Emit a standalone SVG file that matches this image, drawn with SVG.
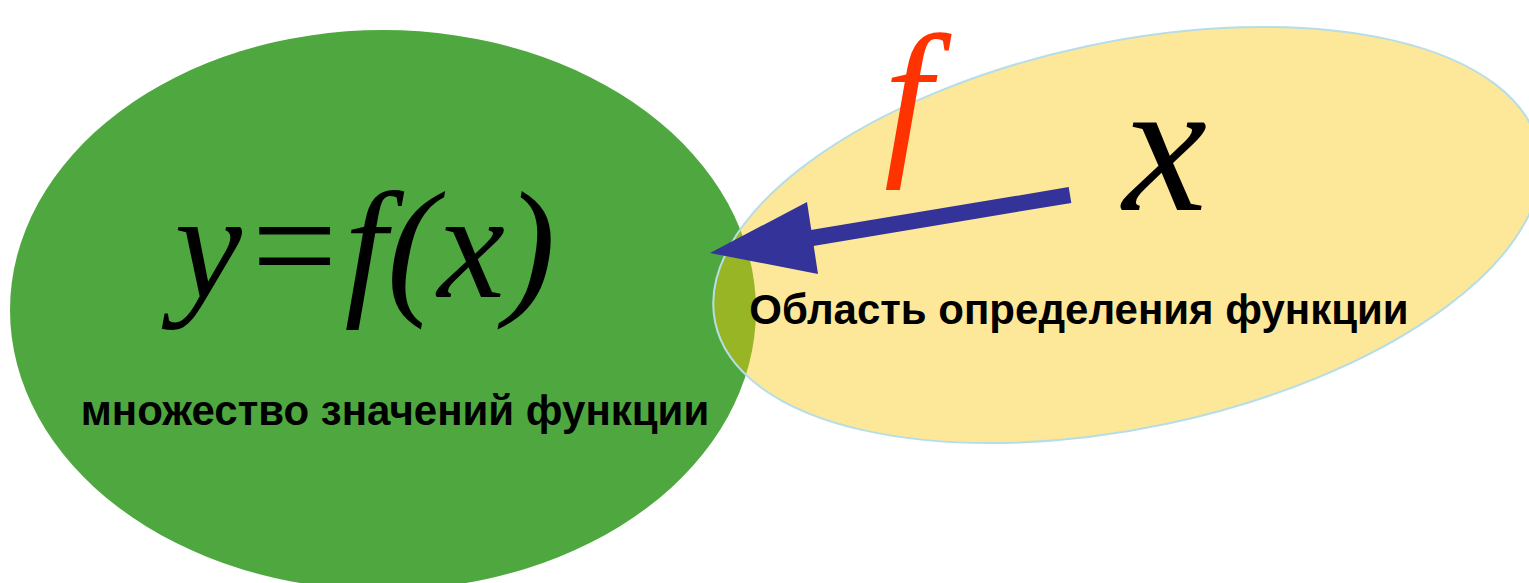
<svg xmlns="http://www.w3.org/2000/svg" width="1529" height="583" viewBox="0 0 1529 583">
<style>
.lbl{font-family:"Liberation Sans",Arial,sans-serif;font-weight:bold;font-size:42px;fill:#000}
.math{font-family:"Liberation Serif","Times New Roman",serif;font-style:italic}
</style>
<defs>
<clipPath id="yclip"><ellipse cx="1127" cy="235" rx="421" ry="193" transform="rotate(-12 1127 235)"/></clipPath>
</defs>
<rect width="1529" height="583" fill="#fff"/>
<g id="range">
<ellipse cx="383" cy="310" rx="373" ry="280" fill="#4EA83F"/>
</g>
<g id="domain">
<ellipse cx="1127" cy="235" rx="421" ry="193" transform="rotate(-12 1127 235)" fill="#FDE89A"/>
<ellipse cx="383" cy="310" rx="373" ry="280" fill="#98B526" clip-path="url(#yclip)"/>
<ellipse cx="1127" cy="235" rx="421" ry="193" transform="rotate(-12 1127 235)" fill="none" stroke="#B7DDE6" stroke-width="2"/>
</g>
<g id="connectors">
<line x1="1070" y1="195" x2="800" y2="240" stroke="#333399" stroke-width="16"/>
<polygon points="710,253 807,202 818,274" fill="#333399"/>
</g>
<g id="labels">
<text class="math" x="365" y="297" font-size="152" text-anchor="middle">y=f(x)</text>
<text class="lbl" x="395" y="425" text-anchor="middle">множество значений функции</text>
<text class="lbl" x="1079" y="324" text-anchor="middle">Область определения функции</text>
<text class="math" x="908" y="153" font-size="172" fill="#FF3300" text-anchor="middle">f</text>
<text class="math" x="1165" y="210" font-size="190" text-anchor="middle">x</text>
</g>
</svg>
